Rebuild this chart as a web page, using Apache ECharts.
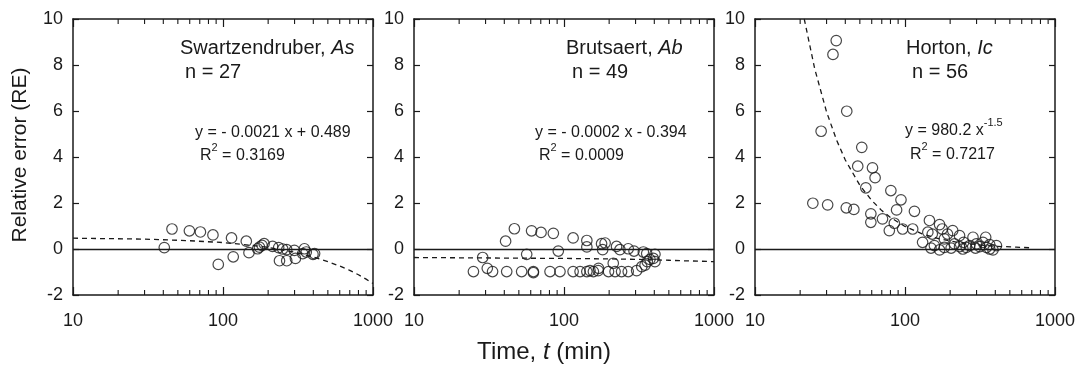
<!DOCTYPE html>
<html><head><meta charset="utf-8">
<script src="https://cdn.jsdelivr.net/npm/echarts@6/dist/echarts.min.js"></script>
<style>html,body{margin:0;padding:0;background:#fff}#c{width:1086px;height:367px}</style>
</head><body><div id="c"></div>
<script>
// ---- data ----
const yTicks = [-2, 0, 2, 4, 6, 8, 10];
const xTickLabels = [10, 100, 1000];
const minorTicks = [20,30,40,50,60,70,80,90,200,300,400,500,600,700,800,900];

// Swartzendruber, As : [time, RE]
const swT  = [40.6,45.7,59.7,70.7,85.7,93,114,117,143,149,170,182,188,214,235,238,266,266,299,304,340,349,359,398,408,175,250];
const swRE = [0.06,0.87,0.79,0.74,0.61,-0.67,0.48,-0.34,0.34,-0.16,0.01,0.16,0.23,0.11,0.06,-0.51,-0.51,-0.03,-0.06,-0.41,-0.2,0.01,-0.13,-0.23,-0.2,0.08,0.0];
const swFitT  = [10,30,60,100,150,200,300,400,500,600,700,800,900,1000];
const swFitRE = [0.47,0.43,0.36,0.28,0.17,0.07,-0.14,-0.35,-0.55,-0.74,-0.93,-1.12,-1.31,-1.5];

// Brutsaert, Ab
const brT  = [40.8,46.7,60.8,70.3,84.9,115,142,142,178,181,188,224,236,268,293,338,356,404,56.4,91.6,28.7,30.8,
              24.9,33.4,41.5,52.2,62.5,80.7,94,115,128,142,157,169,170,198,213,219,242,268,305,330,347,359,374,404,394,62.5,149];
const brRE = [0.34,0.88,0.79,0.72,0.68,0.48,0.37,0.09,0.23,-0.03,0.26,0.11,-0.03,0.01,-0.09,-0.13,-0.2,-0.23,-0.23,-0.09,-0.37,-0.84,
              -0.98,-0.98,-0.98,-0.98,-0.98,-0.98,-0.98,-0.98,-0.98,-0.98,-0.98,-0.94,-0.84,-0.98,-0.62,-0.98,-0.98,-0.98,-0.94,-0.77,-0.7,-0.55,-0.45,-0.55,-0.41,-1.03,-0.94];
const brFitT  = [10,100,200,300,400,500,600,700,800,900,1000];
const brFitRE = [-0.37,-0.41,-0.43,-0.45,-0.47,-0.49,-0.51,-0.52,-0.53,-0.54,-0.55];

// Horton, Ic
const hoT  = [34.8,33.1,40.9,27.6,51.5,48.4,60.7,63.2,54.8,80.5,94,24.3,30.5,40.6,45.6,87.9,115.6,59.2,70.8,59.2,84.9,78.6,96.4,112.5,
              145.5,170,177,142,208,231,183,131,284,345,246,299,367,149,170,203,231,256,315,386,407,270,214,152,192,349,331,157,183,243,295,367];
const hoRE = [9.06,8.46,5.99,5.12,4.42,3.6,3.53,3.1,2.66,2.54,2.14,1.99,1.92,1.79,1.72,1.7,1.64,1.53,1.31,1.16,1.12,0.8,0.87,0.87,
              1.24,1.06,0.87,0.73,0.8,0.58,0.44,0.29,0.51,0.51,0.29,0.22,0.19,0.04,-0.04,0.04,0.1,0.07,0.1,-0.04,0.15,0.15,0.22,0.65,0.65,0.07,0.29,0.15,0.07,0.0,0.04,0.0];
const hoFitT  = [21.3,25,30,35,40,50,60,70,80,100,130,170,220,300,400,550,700];
const hoFitRE = [10.0,7.84,5.96,4.73,3.87,2.77,2.11,1.67,1.37,0.98,0.66,0.44,0.3,0.19,0.12,0.08,0.05];

const panels = [
  {t: swT, re: swRE, ft: swFitT, fre: swFitRE},
  {t: brT, re: brRE, ft: brFitT, fre: brFitRE},
  {t: hoT, re: hoRE, ft: hoFitT, fre: hoFitRE}
];

// ---- chart ----
const FONT = "'Liberation Sans', Arial, sans-serif";
const INK = '#1a1a1a';
const gridLefts = [73, 414, 755];
const grids = gridLefts.map(l => ({left: l, width: 300, top: 19, height: 276}));
const xAxis = [], yAxis = [], series = [];
const zip = (a, b) => a.map((v, i) => [v, b[i]]);

grids.forEach((g, i) => {
  xAxis.push({type: 'log', gridIndex: i, position: 'bottom', min: xTickLabels[0], max: xTickLabels[2], logBase: 10,
    axisLine: {onZero: false, lineStyle: {color: INK, width: 1.5}},
    axisTick: {inside: true, length: 8, lineStyle: {color: INK, width: 1.2}},
    axisLabel: {color: INK, fontFamily: FONT, fontSize: 18, margin: 17, formatter: v => String(v)},
    splitLine: {show: false}});
  yAxis.push({type: 'value', gridIndex: i, position: 'left', min: yTicks[0], max: yTicks[yTicks.length-1], interval: 2,
    axisLine: {show: true, onZero: false, lineStyle: {color: INK, width: 1.5}},
    axisTick: {inside: true, length: 6, lineStyle: {color: INK, width: 1.2}},
    axisLabel: {color: INK, fontFamily: FONT, fontSize: 18, margin: 10},
    splitLine: {show: false}});
});
grids.forEach((g, i) => {
  xAxis.push({type: 'log', gridIndex: i, position: 'top', min: xTickLabels[0], max: xTickLabels[2], logBase: 10,
    axisLine: {onZero: false, lineStyle: {color: INK, width: 1.5}},
    axisTick: {inside: true, length: 8, lineStyle: {color: INK, width: 1.2}},
    axisLabel: {show: false}, splitLine: {show: false}});
  yAxis.push({type: 'value', gridIndex: i, position: 'right', min: yTicks[0], max: yTicks[yTicks.length-1], interval: 2,
    axisLine: {show: true, onZero: false, lineStyle: {color: INK, width: 1.5}},
    axisTick: {inside: true, length: 6, lineStyle: {color: INK, width: 1.2}},
    axisLabel: {show: false}, splitLine: {show: false}});
});

panels.forEach((p, i) => {
  series.push({type: 'custom', xAxisIndex: i, yAxisIndex: i, silent: true, clip: false,
    data: minorTicks.map(v => [v, 0]),
    renderItem: (params, api) => {
      const v = api.value(0);
      const b = api.coord([v, yTicks[0]]);
      const t = api.coord([v, yTicks[yTicks.length-1]]);
      const st = {stroke: INK, lineWidth: 1.1};
      return {type: 'group', children: [
        {type: 'line', shape: {x1: b[0], y1: b[1], x2: b[0], y2: b[1]-5}, style: st},
        {type: 'line', shape: {x1: t[0], y1: t[1], x2: t[0], y2: t[1]+5}, style: st}
      ]};
    }});
  series.push({type: 'line', xAxisIndex: i, yAxisIndex: i, data: zip(p.ft, p.fre), showSymbol: false, symbol: 'none',
    smooth: false, clip: true, silent: true,
    lineStyle: {color: INK, width: 1.3, type: [5, 4]}, z: 3});
  series.push({type: 'scatter', xAxisIndex: i, yAxisIndex: i, data: zip(p.t, p.re), symbol: 'circle', symbolSize: 10.5,
    itemStyle: {color: 'rgba(0,0,0,0)', borderColor: INK, borderWidth: 1.2}, z: 4,
    markLine: {silent: true, symbol: ['none', 'none'], label: {show: false},
      lineStyle: {color: INK, type: 'solid', width: 1.3}, data: [{yAxis: 0}]}});
});

function txt(x, y, text, rich) {
  return {type: 'text', x: x, y: y, silent: true,
    style: {text: text, rich: rich, verticalAlign: 'middle', align: 'left', fill: INK}};
}
const rT = {n: {fontFamily: FONT, fontSize: 20, fill: INK}, i: {fontFamily: FONT, fontSize: 20, fontStyle: 'italic', fill: INK}};
const rE = {n: {fontFamily: FONT, fontSize: 16, fill: INK, lineHeight: 22, verticalAlign: 'bottom'},
            s: {fontFamily: FONT, fontSize: 11, fill: INK, verticalAlign: 'top', lineHeight: 22}};

const graphic = [
  txt(180, 48, '{n|Swartzendruber, }{i|As}', rT),
  txt(185, 72, '{n|n = 27}', rT),
  txt(195, 130, '{n|y = - 0.0021 x + 0.489}', rE),
  txt(200, 153, '{n|R}{s|2}{n| = 0.3169}', rE),
  txt(566, 48, '{n|Brutsaert, }{i|Ab}', rT),
  txt(572, 72, '{n|n = 49}', rT),
  txt(535, 130, '{n|y = - 0.0002 x - 0.394}', rE),
  txt(539, 153, '{n|R}{s|2}{n| = 0.0009}', rE),
  txt(906, 48, '{n|Horton, }{i|Ic}', rT),
  txt(912, 72, '{n|n = 56}', rT),
  txt(905, 128, '{n|y = 980.2 x}{s|-1.5}', rE),
  txt(910, 152, '{n|R}{s|2}{n| = 0.7217}', rE),
  {type: 'text', x: 20, y: 155, rotation: Math.PI / 2, silent: true,
   style: {text: 'Relative error (RE)', font: '21px ' + FONT, fill: INK, align: 'center', verticalAlign: 'middle'}},
  {type: 'text', x: 544, y: 352, silent: true,
   style: {text: '{n|Time, }{i|t}{n| (min)}', align: 'center', verticalAlign: 'middle',
     rich: {n: {fontFamily: FONT, fontSize: 24, fill: INK}, i: {fontFamily: FONT, fontSize: 24, fontStyle: 'italic', fill: INK}}}}
];

const chart = echarts.init(document.getElementById('c'), null, {renderer: 'canvas'});
chart.setOption({animation: false, backgroundColor: '#fff', grid: grids, xAxis: xAxis, yAxis: yAxis, series: series, graphic: graphic});
</script>
</body></html>
